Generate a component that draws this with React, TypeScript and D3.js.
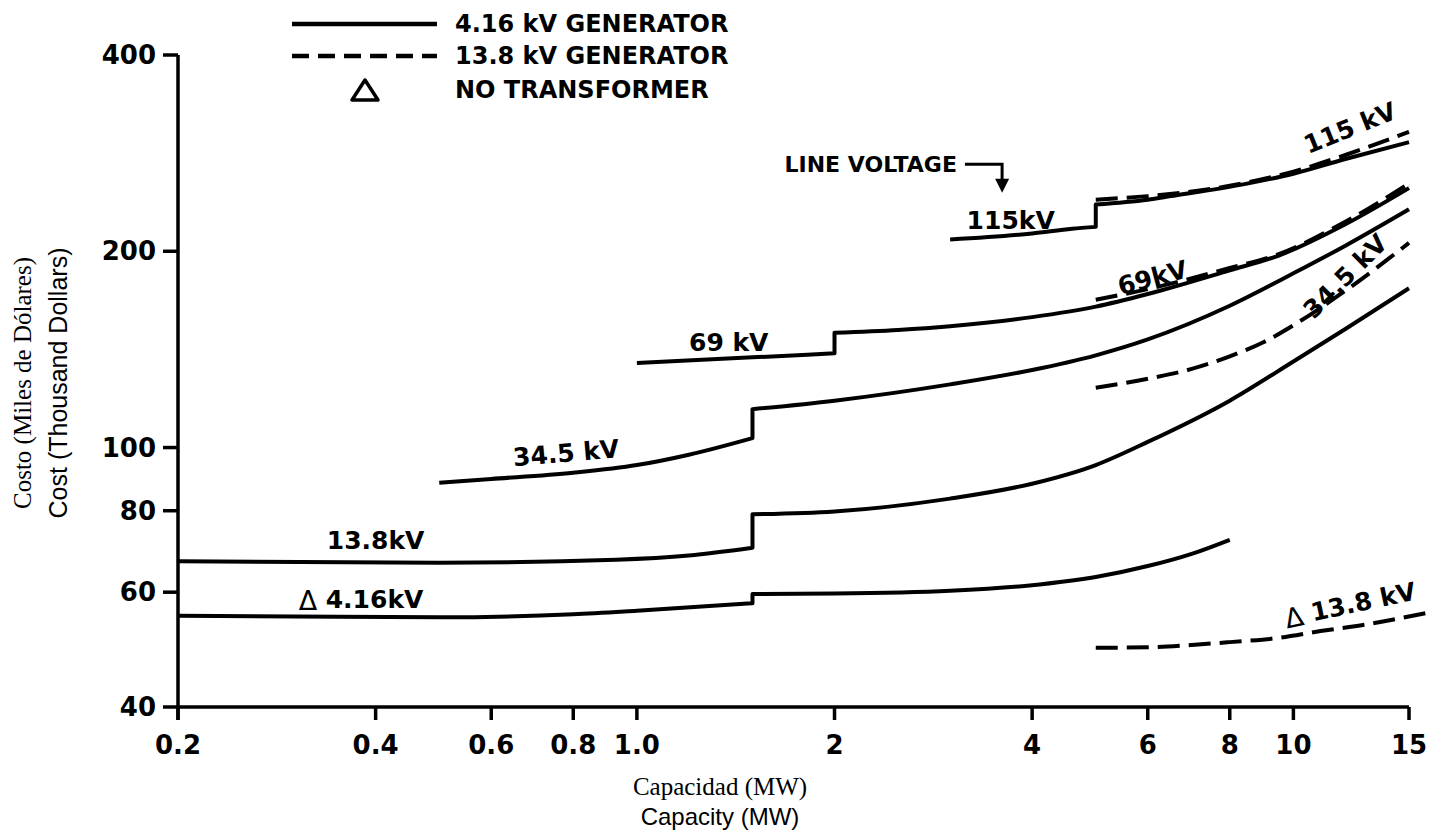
import React from "react";
import * as d3 from "d3";

type Pt = [number, number]; // [capacity MW, cost thousand $]

const capTicks = [0.2, 0.4, 0.6, 0.8, 1, 2, 4, 6, 8, 10, 15];
const capTickText = ["0.2", "0.4", "0.6", "0.8", "1.0", "2", "4", "6", "8", "10", "15"];
const costTicks = [40, 60, 80, 100, 200, 400];

// 4.16 kV generator (solid), pieces split at the steps
const noTr416Low: Pt[] = [[0.2, 55.2], [0.35, 55], [0.5, 54.9], [0.8, 55.5], [1, 56.2], [1.5, 57.7]];
const noTr416High: Pt[] = [[1.5, 59.6], [2, 59.7], [3, 60.3], [4, 61.5], [5, 63.3], [6, 65.8], [7, 68.7], [8, 72.2]];
const line138Low: Pt[] = [[0.2, 66.9], [0.5, 66.6], [0.93, 67.3], [1.2, 68.3], [1.5, 70.2]];
const line138High: Pt[] = [[1.5, 79], [2, 79.8], [3, 83.5], [4, 88], [5, 94], [6, 102], [8, 118], [10, 135.5], [12, 152], [15, 175.5]];
const line345Low: Pt[] = [[0.5, 88.3], [0.6, 89.5], [0.8, 91.5], [1, 94], [1.2, 97.5], [1.5, 103.4]];
const line345High: Pt[] = [[1.5, 114.5], [2, 118], [3, 125], [4, 131.5], [5, 138.5], [6, 146.5], [8, 165], [10, 185], [12, 204], [15, 232]];
const line69Low: Pt[] = [[1, 134.8], [1.5, 137.5], [2, 139.5]];
const line69High: Pt[] = [[2, 150], [2.5, 151.5], [3, 153.5], [4, 158.5], [5, 164.5], [6, 172], [8, 187], [9.5, 197], [12, 220], [15, 250]];
const line115Low: Pt[] = [[3, 208.5], [4, 213], [4.6, 216.5], [5, 218]];
const line115High: Pt[] = [[5, 236], [6, 240], [6.5, 243], [8.5, 254], [10, 263], [12, 277], [15, 294]];

// 13.8 kV generator (dashed)
const gen138Line69: Pt[] = [[5, 168.5], [6, 175], [8, 188.5], [9.5, 198], [12, 222], [15, 254]];
const gen138Line115: Pt[] = [[5, 240], [6, 243], [8, 252], [10, 265], [12, 281], [15, 305]];
const gen138Line345: Pt[] = [[5, 123.5], [6, 127.5], [7, 132], [8, 138], [9, 145], [10, 154], [12, 174], [15, 206]];
const gen138NoTr: Pt[] = [[5, 49.3], [6, 49.4], [7, 49.8], [8, 50.3], [9.4, 51], [11, 52.3], [13, 53.6], [16, 55.8]];

const solidSeries: Pt[][][] = [
  [noTr416Low, noTr416High],
  [line138Low, line138High],
  [line345Low, line345High],
  [line69Low, line69High],
  [line115Low, line115High],
];
const dashedSeries: Pt[][] = [gen138Line69, gen138Line115, gen138Line345, gen138NoTr];

// curve annotations, anchored in data units; tri = "no transformer" mark in front
const curveLabels = [
  { text: "115kV", cap: 3.71, cost: 222.6, rot: 0, tri: false },
  { text: "115 kV", cap: 12.2, cost: 309, rot: -22, tri: false },
  { text: "69kV", cap: 6.1, cost: 182, rot: -15, tri: false },
  { text: "34.5 kV", cap: 12.0, cost: 183, rot: -45, tri: false },
  { text: "69 kV", cap: 1.38, cost: 144.7, rot: 0, tri: false },
  { text: "34.5 kV", cap: 0.78, cost: 98, rot: -5, tri: false },
  { text: "13.8kV", cap: 0.4, cost: 71.9, rot: 0, tri: false },
  { text: "4.16kV", cap: 0.38, cost: 58.4, rot: 0, tri: true },
  { text: "13.8 kV", cap: 12.2, cost: 57.4, rot: -12, tri: true },
];

const x = d3.scaleLog().domain([0.2, 15]).range([178, 1409]);
const y = d3.scaleLog().domain([40, 400]).range([707, 55]);

const curve = d3
  .line<Pt>()
  .x((d) => x(d[0]))
  .y((d) => y(d[1]))
  .curve(d3.curveMonotoneX);

function stepPath(pieces: Pt[][]) {
  return pieces
    .map((p, i) => {
      const s = curve(p) || "";
      return i === 0 ? s : "L" + s.slice(1);
    })
    .join("");
}

const bold = "'DejaVu Sans', sans-serif";

export default function App() {
  const ax = x(0.2);
  const ay = y(40);
  // LINE VOLTAGE pointer
  const px0 = x(3.16);
  const px1 = x(3.6);
  const py0 = y(272);
  const py1 = y(246);

  return (
    <div style={{ position: "absolute", left: 0, top: 0 }}>
      <svg width={1441} height={832} style={{ display: "block", background: "#fff" }}>
        {/* axes */}
        <g stroke="#000" strokeWidth={3.5} fill="none">
          <line x1={ax} x2={ax} y1={y(400)} y2={ay + 13} />
          <line x1={ax} x2={x(15)} y1={ay} y2={ay} />
          {costTicks.map((t) => (
            <line key={t} x1={ax - 15} x2={ax} y1={y(t)} y2={y(t)} />
          ))}
          {capTicks.map((t) => (
            <line key={t} x1={x(t)} x2={x(t)} y1={ay} y2={ay + 13} />
          ))}
        </g>
        <g fontFamily={bold} fontWeight="bold" fontSize={26} fill="#000">
          {costTicks.map((t) => (
            <text key={t} x={ax - 22} y={y(t)} textAnchor="end" dominantBaseline="central">
              {t}
            </text>
          ))}
          {capTicks.map((t, i) => (
            <text key={t} x={x(t)} y={ay + 38} textAnchor="middle" dominantBaseline="central">
              {capTickText[i]}
            </text>
          ))}
        </g>

        {/* axis titles */}
        <text
          transform="translate(22,383) rotate(-90)"
          textAnchor="middle"
          dominantBaseline="central"
          fontFamily="'Liberation Serif', serif"
          fontSize={25}
        >
          Costo (Miles de Dólares)
        </text>
        <text
          transform="translate(58,383) rotate(-90)"
          textAnchor="middle"
          dominantBaseline="central"
          fontFamily="'Liberation Sans', sans-serif"
          fontSize={25}
        >
          Cost (Thousand Dollars)
        </text>
        <text x={720} y={786} textAnchor="middle" dominantBaseline="central" fontFamily="'Liberation Serif', serif" fontSize={25}>
          Capacidad (MW)
        </text>
        <text x={720} y={816} textAnchor="middle" dominantBaseline="central" fontFamily="'Liberation Sans', sans-serif" fontSize={24}>
          Capacity (MW)
        </text>

        {/* curves */}
        <g fill="none" stroke="#000" strokeWidth={4} strokeLinejoin="round">
          {solidSeries.map((s, i) => (
            <path key={i} d={stepPath(s)} />
          ))}
          {dashedSeries.map((s, i) => (
            <path key={i} d={curve(s) || ""} strokeDasharray="22 9" />
          ))}
        </g>

        {/* curve labels */}
        <g fontFamily={bold} fontWeight="bold" fontSize={25} fill="#000">
          {curveLabels.map((l, i) => (
            <text
              key={i}
              transform={`translate(${x(l.cap)},${y(l.cost)}) rotate(${l.rot})`}
              textAnchor="middle"
              dominantBaseline="central"
            >
              {l.tri && <tspan fontWeight="normal" fontSize={27}>Δ </tspan>}
              {l.text}
            </text>
          ))}
          <text x={px0 - 8} y={py0} textAnchor="end" dominantBaseline="central" fontSize={22}>
            LINE VOLTAGE
          </text>
        </g>
        <path d={`M${px0},${py0} H${px1} V${py1 - 10}`} fill="none" stroke="#000" strokeWidth={3} />
        <path d={`M${px1 - 7},${py1 - 14} L${px1 + 7},${py1 - 14} L${px1},${py1}Z`} fill="#000" />

        {/* legend */}
        <g stroke="#000" strokeWidth={4.5}>
          <line x1={292} x2={437} y1={24} y2={24} />
          <line x1={292} x2={437} y1={56} y2={56} strokeDasharray="17 9" />
          <path d="M365,80 L378,100 L352,100 Z" fill="none" strokeWidth={3.5} strokeLinejoin="round" />
        </g>
        <g fontFamily={bold} fontWeight="bold" fontSize={24} fill="#000">
          <text x={455} y={24} dominantBaseline="central">4.16 kV GENERATOR</text>
          <text x={455} y={56} dominantBaseline="central">13.8 kV GENERATOR</text>
          <text x={455} y={90} dominantBaseline="central">NO TRANSFORMER</text>
        </g>
      </svg>
    </div>
  );
}
